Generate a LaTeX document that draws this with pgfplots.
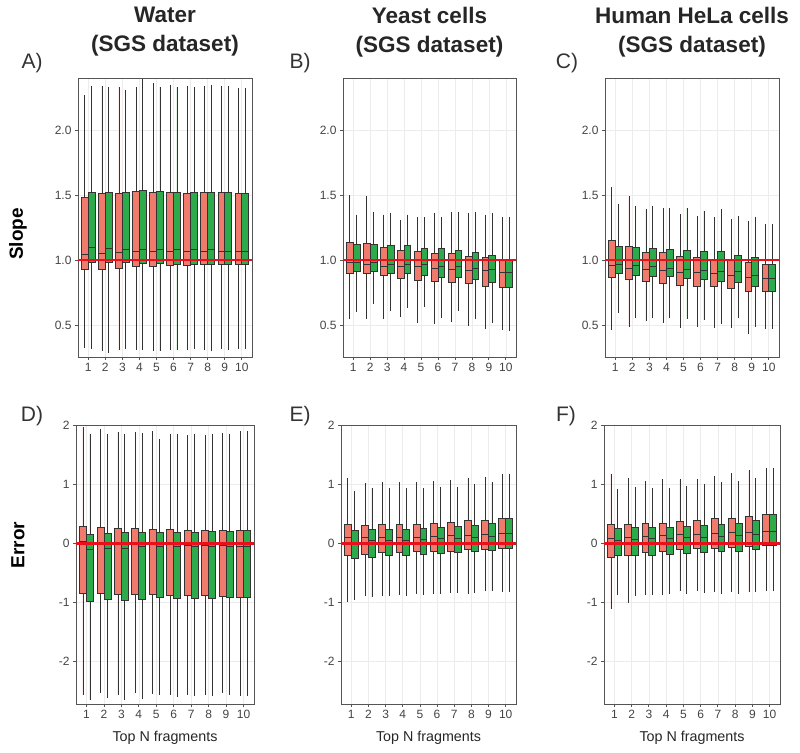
\documentclass[border=0pt]{standalone}
\usepackage{pgfplots}
\usepackage{pgfplotstable}
\pgfplotsset{compat=1.18}
\usepgfplotslibrary{statistics}
\usepackage{fontspec}
\setmainfont{Liberation Sans}
\definecolor{salmon}{HTML}{F07A6C}
\definecolor{grn}{HTML}{2DAA4B}
\definecolor{boxline}{HTML}{333333}
\definecolor{frame}{HTML}{555555}
\definecolor{ticktext}{HTML}{444444}
\definecolor{refred}{HTML}{E8101A}

% columns: salmon (low whisker, Q1, median, Q3, high whisker), green (same)
\pgfplotstableread{
sl sq sm su sh gl gq gm gu gh
0.326 0.926 1.044 1.48 2.27 0.318 0.98 1.10 1.523 2.34
0.30 0.933 1.056 1.51 2.34 0.287 0.98 1.09 1.52 2.33
0.31 0.94 1.06 1.51 2.33 0.32 0.98 1.08 1.52 2.31
0.31 0.95 1.064 1.525 2.33 0.31 0.974 1.08 1.54 2.39
0.30 0.95 1.064 1.52 2.36 0.30 0.974 1.08 1.53 2.33
0.31 0.96 1.064 1.52 2.35 0.31 0.97 1.08 1.52 2.33
0.31 0.96 1.07 1.51 2.34 0.32 0.97 1.08 1.52 2.33
0.31 0.964 1.07 1.52 2.34 0.30 0.964 1.08 1.52 2.35
0.32 0.964 1.07 1.52 2.34 0.31 0.964 1.07 1.52 2.34
0.32 0.964 1.07 1.51 2.32 0.32 0.964 1.07 1.51 2.32
}\tabA
\pgfplotstableread{
sl sq sm su sh gl gq gm gu gh
0.546 0.895 0.985 1.14 1.50 0.605 0.915 0.987 1.12 1.35
0.546 0.895 0.967 1.13 1.49 0.665 0.913 0.98 1.12 1.37
0.546 0.88 0.954 1.10 1.35 0.61 0.895 0.97 1.11 1.36
0.56 0.863 0.954 1.075 1.31 0.63 0.895 0.97 1.11 1.35
0.515 0.848 0.95 1.067 1.335 0.64 0.887 0.97 1.09 1.33
0.51 0.835 0.94 1.054 1.36 0.556 0.87 0.954 1.09 1.335
0.525 0.83 0.93 1.05 1.37 0.61 0.87 0.954 1.075 1.37
0.495 0.82 0.92 1.03 1.36 0.546 0.85 0.94 1.06 1.37
0.47 0.80 0.92 1.02 1.35 0.515 0.83 0.93 1.04 1.36
0.46 0.79 0.91 1.01 1.335 0.455 0.79 0.91 1.01 1.335
}\tabB
\pgfplotstableread{
sl sq sm su sh gl gq gm gu gh
0.46 0.866 0.96 1.15 1.56 0.595 0.897 0.966 1.105 1.43
0.49 0.853 0.94 1.105 1.49 0.556 0.884 0.96 1.095 1.42
0.53 0.84 0.93 1.06 1.39 0.556 0.874 0.95 1.09 1.42
0.52 0.825 0.92 1.06 1.40 0.556 0.874 0.935 1.08 1.40
0.48 0.81 0.91 1.03 1.355 0.545 0.86 0.93 1.077 1.40
0.485 0.80 0.91 1.02 1.34 0.54 0.85 0.92 1.064 1.38
0.48 0.80 0.895 1.0 1.33 0.51 0.84 0.915 1.064 1.39
0.48 0.78 0.88 1.0 1.32 0.556 0.833 0.915 1.04 1.34
0.435 0.76 0.87 0.98 1.30 0.49 0.80 0.885 1.02 1.335
0.47 0.76 0.86 0.965 1.28 0.47 0.76 0.86 0.965 1.28
}\tabC
\pgfplotstableread{
sl sq sm su sh gl gq gm gu gh
-2.57 -0.855 0.03 0.29 1.96 -2.65 -0.98 -0.11 0.15 1.84
-2.54 -0.855 0.01 0.27 1.93 -2.61 -0.95 -0.08 0.17 1.84
-2.56 -0.87 0.0 0.245 1.88 -2.65 -0.97 -0.08 0.18 1.84
-2.54 -0.87 -0.02 0.245 1.88 -2.63 -0.95 -0.06 0.18 1.87
-2.55 -0.87 -0.02 0.235 1.90 -2.57 -0.92 -0.06 0.18 1.76
-2.56 -0.89 -0.02 0.236 1.84 -2.60 -0.93 -0.06 0.18 1.84
-2.56 -0.89 -0.04 0.21 1.83 -2.58 -0.93 -0.06 0.185 1.84
-2.57 -0.89 -0.04 0.21 1.83 -2.58 -0.93 -0.05 0.20 1.84
-2.54 -0.90 -0.04 0.21 1.87 -2.57 -0.91 -0.05 0.20 1.84
-2.58 -0.91 -0.05 0.21 1.90 -2.58 -0.91 -0.05 0.21 1.90
}\tabD
\pgfplotstableread{
sl sq sm su sh gl gq gm gu gh
-1.0 -0.21 0.095 0.32 1.11 -0.955 -0.26 0.01 0.21 0.88
-0.9 -0.185 0.10 0.30 1.02 -0.915 -0.235 0.04 0.235 0.93
-0.89 -0.157 0.107 0.32 1.04 -0.9 -0.21 0.045 0.24 0.93
-0.88 -0.157 0.10 0.32 1.03 -0.9 -0.20 0.056 0.24 0.93
-0.855 -0.14 0.10 0.32 1.03 -0.88 -0.185 0.073 0.253 0.93
-0.855 -0.13 0.112 0.337 1.05 -0.855 -0.174 0.084 0.27 0.955
-0.84 -0.13 0.13 0.35 1.07 -0.84 -0.157 0.084 0.29 0.955
-0.855 -0.11 0.14 0.38 1.11 -0.84 -0.146 0.10 0.30 1.0
-0.815 -0.10 0.157 0.39 1.12 -0.815 -0.124 0.124 0.337 1.03
-0.83 -0.095 0.168 0.415 1.17 -0.83 -0.095 0.168 0.415 1.17
}\tabE
\pgfplotstableread{
sl sq sm su sh gl gq gm gu gh
-1.11 -0.24 0.084 0.32 1.17 -0.876 -0.21 0.056 0.247 0.91
-1.01 -0.20 0.107 0.32 1.11 -0.9 -0.20 0.067 0.264 0.955
-0.876 -0.15 0.112 0.337 1.05 -0.876 -0.20 0.08 0.264 0.94
-0.87 -0.14 0.13 0.337 1.08 -0.855 -0.185 0.08 0.275 0.94
-0.815 -0.11 0.146 0.37 1.08 -0.855 -0.17 0.10 0.29 0.97
-0.815 -0.095 0.146 0.39 1.09 -0.84 -0.157 0.107 0.30 1.0
-0.82 -0.08 0.168 0.415 1.13 -0.855 -0.14 0.112 0.326 1.04
-0.83 -0.073 0.18 0.427 1.185 -0.855 -0.135 0.13 0.337 1.05
-0.82 -0.045 0.185 0.455 1.236 -0.82 -0.10 0.152 0.38 1.11
-0.815 -0.03 0.197 0.49 1.275 -0.815 -0.03 0.197 0.49 1.275
}\tabF

% #1 table, #2 row, #3 column prefix (s or g), #4 draw position, #5 fill colour
\newcommand{\onebox}[5]{%
  \pgfplotstablegetelem{#2}{#3l}\of#1\let\vl\pgfplotsretval
  \pgfplotstablegetelem{#2}{#3q}\of#1\let\vq\pgfplotsretval
  \pgfplotstablegetelem{#2}{#3m}\of#1\let\vm\pgfplotsretval
  \pgfplotstablegetelem{#2}{#3u}\of#1\let\vu\pgfplotsretval
  \pgfplotstablegetelem{#2}{#3h}\of#1\let\vh\pgfplotsretval
  \edef\doplot{\noexpand\addplot[draw=boxline, fill=#5, line width=0.75pt,
    boxplot prepared={draw direction=y, draw position=#4, box extend=0.4, whisker extend=0,
      lower whisker=\vl, lower quartile=\vq, median=\vm,
      upper quartile=\vu, upper whisker=\vh}] coordinates {};}%
  \doplot
}
\newcommand{\boxes}[1]{%
  \pgfplotsinvokeforeach{0,...,9}{%
    \onebox{#1}{##1}{s}{##1+0.8}{salmon}%
    \onebox{#1}{##1}{g}{##1+1.2}{grn}%
  }%
}

\pgfplotsset{
  panel/.style={scale only axis, height=279pt,
    xmin=0.4, xmax=10.6, xtick={1,...,10},
    xmajorgrids, ymajorgrids, grid style={gray!15, line width=0.6pt},
    axis line style={frame, line width=0.9pt},
    tick align=outside, xtick pos=left, ytick pos=left,
    major tick length=3pt, tick style={frame, line width=0.8pt},
    ticklabel style={font=\fontsize{12}{14}\selectfont, text=ticktext},
    /pgf/number format/assume math mode=true,
    every axis x label/.style={at={(0.5,0)}, anchor=north, yshift=-24pt},
    xlabel style={font=\fontsize{14.3}{16}\selectfont, text=black!85},
    anchor=north west},
  toprow/.style={panel, ymin=0.256, ymax=2.40, ytick={0.5,1,1.5,2},
    yticklabel style={/pgf/number format/.cd, fixed, fixed zerofill, precision=1}},
  botrow/.style={panel, ymin=-2.72, ymax=2.0, ytick={-2,-1,0,1,2}},
}

\begin{document}
\begin{tikzpicture}[x=1pt,y=1pt]
\path[use as bounding box] (0pt,0pt) rectangle (800pt,-752pt);

% titles
\node[font=\fontsize{22.5}{29}\selectfont\bfseries, align=center, text=black!85] at (165pt,-32pt) {Water\\(SGS dataset)};
\node[font=\fontsize{22.5}{29}\selectfont\bfseries, align=center, text=black!85] at (429.5pt,-32pt) {Yeast cells\\(SGS dataset)};
\node[font=\fontsize{22.5}{29}\selectfont\bfseries, align=center, text=black!85] at (692pt,-32pt) {Human HeLa cells\\(SGS dataset)};
% panel letters
\foreach \l/\xx/\yy in {A)/32/-63, B)/300/-63, C)/567/-63, D)/32/-416, E)/300/-416, F)/566/-416}
  \node[font=\fontsize{21}{24}\selectfont, text=black!80] at (\xx pt,\yy pt) {\l};
% row labels
\node[font=\fontsize{19}{22}\selectfont\bfseries, rotate=90] at (18pt,-234pt) {Slope};
\node[font=\fontsize{19}{22}\selectfont\bfseries, rotate=90] at (18pt,-545pt) {Error};

\begin{axis}[toprow, width=174pt, at={(78pt,-78pt)}]
\boxes{\tabA}
\addplot[refred, line width=2.6pt] coordinates {(0.4,1) (10.6,1)};
\end{axis}
\begin{axis}[toprow, width=173pt, at={(343pt,-78pt)}]
\boxes{\tabB}
\addplot[refred, line width=2.6pt] coordinates {(0.4,1) (10.6,1)};
\end{axis}
\begin{axis}[toprow, width=174pt, at={(605pt,-78pt)}]
\boxes{\tabC}
\addplot[refred, line width=2.6pt] coordinates {(0.4,1) (10.6,1)};
\end{axis}

\begin{axis}[botrow, width=178pt, at={(76pt,-425pt)}, xlabel={Top N fragments}]
\boxes{\tabD}
\addplot[refred, line width=2.6pt] coordinates {(0.4,0) (10.6,0)};
\end{axis}
\begin{axis}[botrow, width=175pt, at={(341pt,-425pt)}, xlabel={Top N fragments}]
\boxes{\tabE}
\addplot[refred, line width=2.6pt] coordinates {(0.4,0) (10.6,0)};
\end{axis}
\begin{axis}[botrow, width=176pt, at={(604pt,-425pt)}, xlabel={Top N fragments}]
\boxes{\tabF}
\addplot[refred, line width=2.6pt] coordinates {(0.4,0) (10.6,0)};
\end{axis}
\end{tikzpicture}
\end{document}
